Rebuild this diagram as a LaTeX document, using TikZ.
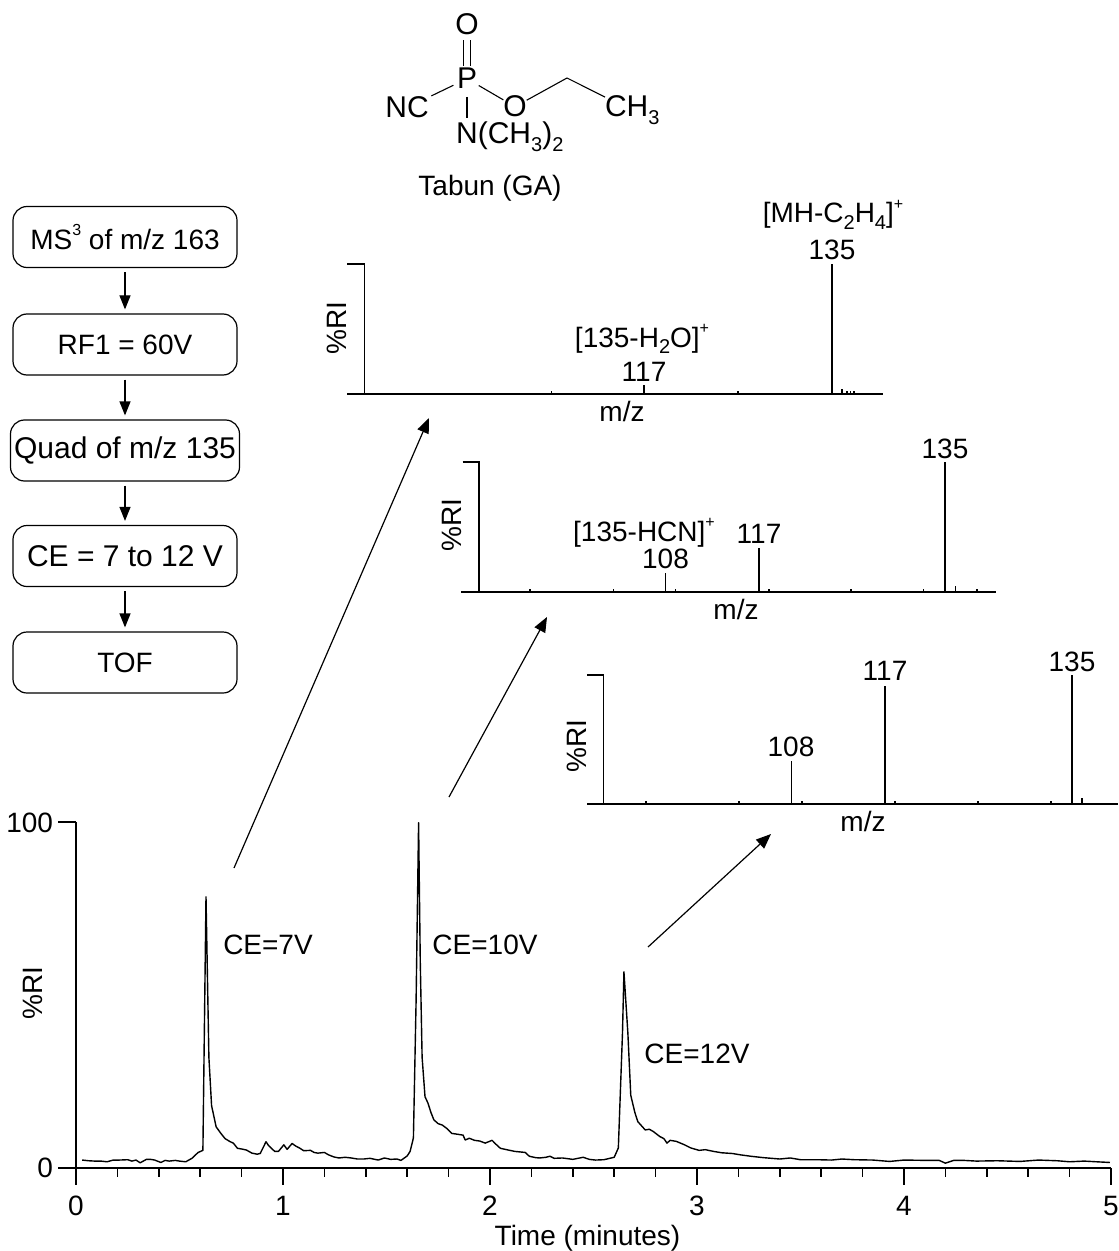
\documentclass[tikz,border=0pt]{standalone}
\usepackage{fontspec}
\setmainfont{Liberation Sans}
\usetikzlibrary{arrows.meta}
\newcommand\sbs[1]{\raisebox{-0.45ex}{\fontsize{10}{10}\selectfont #1}}
\newcommand\sps[1]{\raisebox{0.9ex}{\fontsize{8}{8}\selectfont #1}}
\begin{document}
\begin{tikzpicture}[x=0.5pt,y=-0.5pt,
  font=\fontsize{14}{16}\selectfont,
  txt/.style={inner sep=0pt,outer sep=0pt},
  chem/.style={inner sep=0pt,outer sep=0pt,font=\fontsize{15}{17}\selectfont},
  bond/.style={line width=0.55pt},
  flowbox/.style={draw,rounded corners=7pt,minimum width=112pt,minimum height=30.5pt,inner sep=0pt,line width=0.6pt},
  flowarrow/.style={-{Triangle[length=7pt,width=5.5pt]},line width=0.6pt,shorten <=2pt,shorten >=2pt},
  bigarrow/.style={-{Triangle[length=7.5pt,width=6pt]},line width=0.6pt},
  axisline/.style={line width=0.8pt},
  peak/.style={line width=0.75pt},
  nub/.style={line width=0.6pt},
  trace/.style={line width=0.7pt,line join=round}]
\useasboundingbox (0,0) rectangle (1118,1251);

% ---------- structure ----------
\node[chem,anchor=base] (Otop) at (467,35) {O};
\node[chem,anchor=base] (P) at (467,89) {P};
\node[chem,anchor=base] (NC) at (407,118) {NC};
\node[chem,anchor=base] (Oe) at (515,117) {O};
\node[chem,anchor=base west] (CH3) at (605,117) {CH\sbs{3}};
\node[chem,anchor=base] (N) at (467,144) {N};
\node[chem,anchor=base west] (NMe) at (N.base east) {(CH\sbs{3})\sbs{2}};
\node[txt,anchor=base] (name) at (490,196) {Tabun (GA)};
\coordinate (ch2) at (567,78);
\draw[bond] ([xshift=-1.6pt]Otop.south) ++(0,-2.5pt) -- ([xshift=-1.6pt,yshift=1pt]P.north);
\draw[bond] ([xshift=1.6pt]Otop.south) ++(0,-2.5pt) -- ([xshift=1.6pt,yshift=1pt]P.north);
\draw[bond,shorten <=2pt,shorten >=1.5pt] (P) -- (NC);
\draw[bond,shorten <=1pt] (P) -- (Oe);
\draw[bond,shorten <=4pt,shorten >=2.5pt] (P.south) -- (N.north);
\draw[bond] (Oe) -- (ch2) -- ([yshift=-0.5pt]CH3.north west);

% ---------- flowchart ----------
\node[flowbox] (b1) at (125,237) {MS\sps{3} of m/z 163};
\node[flowbox] (b2) at (125,344.5) {RF1 = 60V};
\node[flowbox,minimum width=114.5pt,font=\fontsize{15}{17}\selectfont] (b3) at (125,450.5) {Quad of m/z 135};
\node[flowbox,font=\fontsize{15}{17}\selectfont] (b4) at (125,556) {CE = 7 to 12 V};
\node[flowbox] (b5) at (125,662.5) {TOF};
\draw[flowarrow] (b1) -- (b2);
\draw[flowarrow] (b2) -- (b3);
\draw[flowarrow] (b3) -- (b4);
\draw[flowarrow] (b4) -- (b5);

% ---------- spectrum 1 ----------
\draw[axisline] (347,264) -- (364.5,264) -- (364.5,394);
\draw[axisline] (347,394) -- (883,394);
\draw[peak] (832,394) -- (832,264);
\draw[peak] (644,394) -- (644,385);
\draw[nub] (842,394) -- (842,388.5);
\foreach \xx in {551.5,738,847,850.5,854} \draw[nub] (\xx,394) -- (\xx,391);
\node[txt,anchor=base] (s1a) at (833,223) {[MH-C\sbs{2}H\sbs{4}]\sps{+}};
\node[txt,anchor=base] (s1b) at (832,260) {135};
\node[txt,anchor=base] (s1c) at (642,347) {[135-H\sbs{2}O]\sps{+}};
\node[txt,anchor=base] (s1d) at (644,381) {117};
\node[txt,anchor=base] (s1x) at (622,421) {m/z};
\node[txt,rotate=90] (s1y) at (337,328) {\%RI};

% ---------- spectrum 2 ----------
\draw[axisline] (462.5,462) -- (479,462) -- (479,592);
\draw[axisline] (461,592) -- (996,592);
\draw[peak] (945,592) -- (945,462);
\draw[peak] (759,592) -- (759,548);
\draw[peak] (665.5,592) -- (665.5,573);
\draw[nub] (955.5,592) -- (955.5,586);
\foreach \xx in {530,613.5,675.5,769,851,923.5,977} \draw[nub] (\xx,592) -- (\xx,589);
\node[txt,anchor=base] (s2a) at (945,458) {135};
\node[txt,anchor=base] (s2b) at (644,541) {[135-HCN]\sps{+}};
\node[txt,anchor=base] (s2c) at (665.5,568) {108};
\node[txt,anchor=base] (s2d) at (759,543) {117};
\node[txt,anchor=base] (s2x) at (736,619) {m/z};
\node[txt,rotate=90] (s2y) at (452,525) {\%RI};

% ---------- spectrum 3 ----------
\draw[axisline] (587,675) -- (603.5,675) -- (603.5,804);
\draw[axisline] (587,804) -- (1118,804);
\draw[peak] (1072,804) -- (1072,675);
\draw[peak] (885,804) -- (885,686);
\draw[peak] (791.5,804) -- (791.5,761);
\draw[nub] (1082,804) -- (1082,798);
\foreach \xx in {646,739,802,895,978,1051} \draw[nub] (\xx,804) -- (\xx,801);
\node[txt,anchor=base] (s3a) at (1072,671) {135};
\node[txt,anchor=base] (s3b) at (885,680) {117};
\node[txt,anchor=base] (s3c) at (791,756) {108};
\node[txt,anchor=base] (s3x) at (863,831) {m/z};
\node[txt,rotate=90] (s3y) at (577,746) {\%RI};

% ---------- arrows ----------
\coordinate (a1s) at (234,868); \coordinate (a1e) at (429,418);
\coordinate (a2s) at (449,797); \coordinate (a2e) at (547,617);
\coordinate (a3s) at (648,947); \coordinate (a3e) at (771,834);
\draw[bigarrow] (a1s) -- (a1e);
\draw[bigarrow] (a2s) -- (a2e);
\draw[bigarrow] (a3s) -- (a3e);

% ---------- chromatogram ----------
\begin{scope}[shift={(76,1168)},x=103.5pt,y=1.73pt]
  \draw[axisline] (0,100) -- (0,0) -- ++(0,-8.5pt);
  \draw[axisline] ([xshift=-9pt]0,100) -- (0,100);
  \draw[axisline] ([xshift=-9pt]0,0) -- (5,0);
  \foreach \t in {1,2,3,4,5} \draw[axisline] (\t,0) -- ++(0,-8.5pt);
  \foreach \t in {0.2,0.4,0.6,0.8,1.2,1.4,1.6,1.8,2.2,2.4,2.6,2.8,3.2,3.4,3.6,3.8,4.2,4.4,4.6,4.8}
    \draw[axisline] (\t,0) -- ++(0,-4.5pt);
  \draw[trace] plot coordinates {
   (0.03,2.3) (0.06,2.1) (0.09,2.0) (0.12,2.0) (0.15,1.8) (0.18,2.3) (0.21,2.3) (0.25,2.4)
   (0.27,2.0) (0.29,2.3) (0.31,1.5) (0.34,2.5) (0.36,2.5) (0.38,2.3) (0.41,1.6) (0.43,2.2)
   (0.45,2.0) (0.48,2.2) (0.50,2.0) (0.53,1.8) (0.56,2.8) (0.59,4.5) (0.613,5.1) (0.628,78.4)
   (0.642,32) (0.655,18) (0.663,15.8) (0.677,11.9) (0.70,10) (0.72,8.5) (0.745,7.6) (0.76,7.2)
   (0.78,5.7) (0.80,5.5) (0.823,5.2) (0.85,4.3) (0.875,4.0) (0.89,4.2) (0.918,7.6) (0.93,6.5)
   (0.944,5.7) (0.96,4.8) (0.978,4.8) (1.004,6.7) (1.02,5.4) (1.044,7.1) (1.06,6.4) (1.082,5.7)
   (1.10,5.0) (1.133,5.1) (1.15,4.5) (1.168,4.3) (1.20,4.5) (1.22,3.8) (1.246,3.2) (1.27,2.9)
   (1.30,3.1) (1.33,2.9) (1.36,2.6) (1.39,2.6) (1.42,2.8) (1.46,2.3) (1.49,2.9) (1.52,2.5)
   (1.55,2.6) (1.57,2.2) (1.60,3.5) (1.614,4.8) (1.63,8.7) (1.643,48.5) (1.655,99.8) (1.663,60)
   (1.672,32) (1.686,20.6) (1.70,18.8) (1.715,16) (1.729,13.9) (1.75,12.8) (1.77,12.4) (1.79,11.5)
   (1.815,10) (1.85,9.7) (1.87,9.5) (1.88,8.1) (1.90,8.6) (1.925,8.0) (1.95,7.8) (1.977,7.2)
   (2.01,8.0) (2.03,6.8) (2.05,5.7) (2.08,5.3) (2.12,4.8) (2.17,4.5) (2.19,3.4) (2.22,3.0)
   (2.24,2.9) (2.27,3.1) (2.29,3.4) (2.31,2.8) (2.35,2.9) (2.40,2.5) (2.45,3.1) (2.48,2.5)
   (2.51,2.3) (2.55,2.4) (2.60,3.1) (2.62,5.8) (2.64,39) (2.647,56.7) (2.666,39) (2.68,21)
   (2.70,16) (2.714,13.4) (2.75,11) (2.77,11.2) (2.79,10.5) (2.82,9.1) (2.84,8.5) (2.855,7.2)
   (2.87,8.0) (2.90,7.7) (2.92,7.2) (2.94,6.7) (2.97,5.8) (3.01,5.1) (3.04,5.3) (3.08,4.8)
   (3.12,4.4) (3.17,4.2) (3.21,3.8) (3.26,3.4) (3.32,3.0) (3.40,2.6) (3.45,2.9) (3.50,2.4)
   (3.58,2.4) (3.65,2.3) (3.70,2.6) (3.76,2.4) (3.85,2.3) (3.93,1.9) (4.00,2.3) (4.11,2.2)
   (4.17,2.2) (4.20,1.4) (4.24,2.2) (4.29,2.2) (4.35,2.0) (4.45,2.1) (4.56,1.9) (4.65,2.3)
   (4.74,2.1) (4.80,1.8) (4.87,2.0) (4.93,1.8) (4.995,1.6)};
\end{scope}
\node[txt,anchor=east] (y100) at (53,823) {100};
\node[txt,anchor=east] (y0) at (53,1168) {0};
\foreach \k in {0,1,2,3,4,5} \node[txt,anchor=base] (xt\k) at (76+207*\k,1215) {\k};
\node[txt,anchor=base] (xlab) at (587.5,1245) {Time (minutes)};
\node[txt,rotate=90] (ylab) at (33,993) {\%RI};
\node[txt] (ce7) at (268,945) {CE=7V};
\node[txt] (ce10) at (485,945) {CE=10V};
\node[txt] (ce12) at (697,1054) {CE=12V};
\end{tikzpicture}
\end{document}
